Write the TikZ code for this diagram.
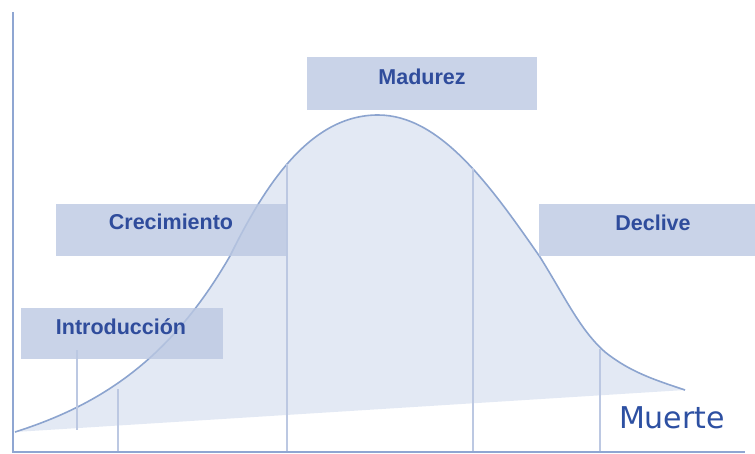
\documentclass[tikz,border=0pt]{standalone}
\usepackage{fontspec}
\setmainfont{Liberation Sans}
\newfontfamily\muertefont{DejaVu Sans}
\usepackage{tikz}

\definecolor{ejeazul}{HTML}{8FA6D2}
\definecolor{curvaazul}{HTML}{8CA4CF}
\definecolor{relleno}{HTML}{E3E9F4}
\definecolor{guiaazul}{HTML}{BCC8E2}
\definecolor{cajaazul}{HTML}{BBC8E2}
\definecolor{textoazul}{HTML}{2F4C9C}
\definecolor{muerteazul}{HTML}{2D50A2}

\begin{document}
\begin{tikzpicture}[x=1pt,y=-1pt]
    \tikzstyle{caja} = [fill=cajaazul, fill opacity=0.8]
    \tikzstyle{etiqueta} = [text=textoazul, inner sep=0pt, text height=15pt, text depth=0pt, font=\fontsize{21.5}{24}\selectfont\bfseries]
    \tikzstyle{eje} = [draw=ejeazul, line width=1.8pt]
    \tikzstyle{guia} = [draw=guiaazul, line width=1.3pt]
    \tikzstyle{curva} = [draw=curvaazul, line width=1.6pt, fill=relleno]
    \useasboundingbox (0,0) rectangle (755,454);

    % area bajo la curva (se cierra sola con la recta de abajo)
    \draw [curva] (15,432) .. controls (100,405) and (170,360) .. (230,256)
        .. controls (265,185) and (310,115) .. (378,115)
        .. controls (440,115) and (490,185) .. (540,257)
        .. controls (565,297) and (580,330) .. (605,352)
        .. controls (630,372) and (655,380) .. (685,390);

    % separaciones entre etapas
    \draw [guia] (77,350) -- (77,430);
    \draw [guia] (118,389) -- (118,452);
    \draw [guia] (287,164) -- (287,452);
    \draw [guia] (473,168) -- (473,452);
    \draw [guia] (600,349) -- (600,452);

    % cajas de las etapas
    \fill [caja] (21,308) rectangle (223,359);
    \fill [caja] (56,204) rectangle (287,256);
    \fill [caja] (307,57) rectangle (537,110);
    \fill [caja] (539,204) rectangle (755,256);

    % ejes
    \draw [eje] (13,12) -- (13,452) -- (745,452);

    \node (intro) [etiqueta] at (121,327) {Introducción};
    \node (crec) [etiqueta] at (171,222) {Crecimiento};
    \node (madurez) [etiqueta] at (422,77) {Madurez};
    \node (declive) [etiqueta] at (653,223) {Declive};
    \node (muerte) [text=muerteazul, inner sep=0pt, font=\muertefont\fontsize{30}{34}\selectfont] at (672,418) {Muerte};
\end{tikzpicture}
\end{document}
